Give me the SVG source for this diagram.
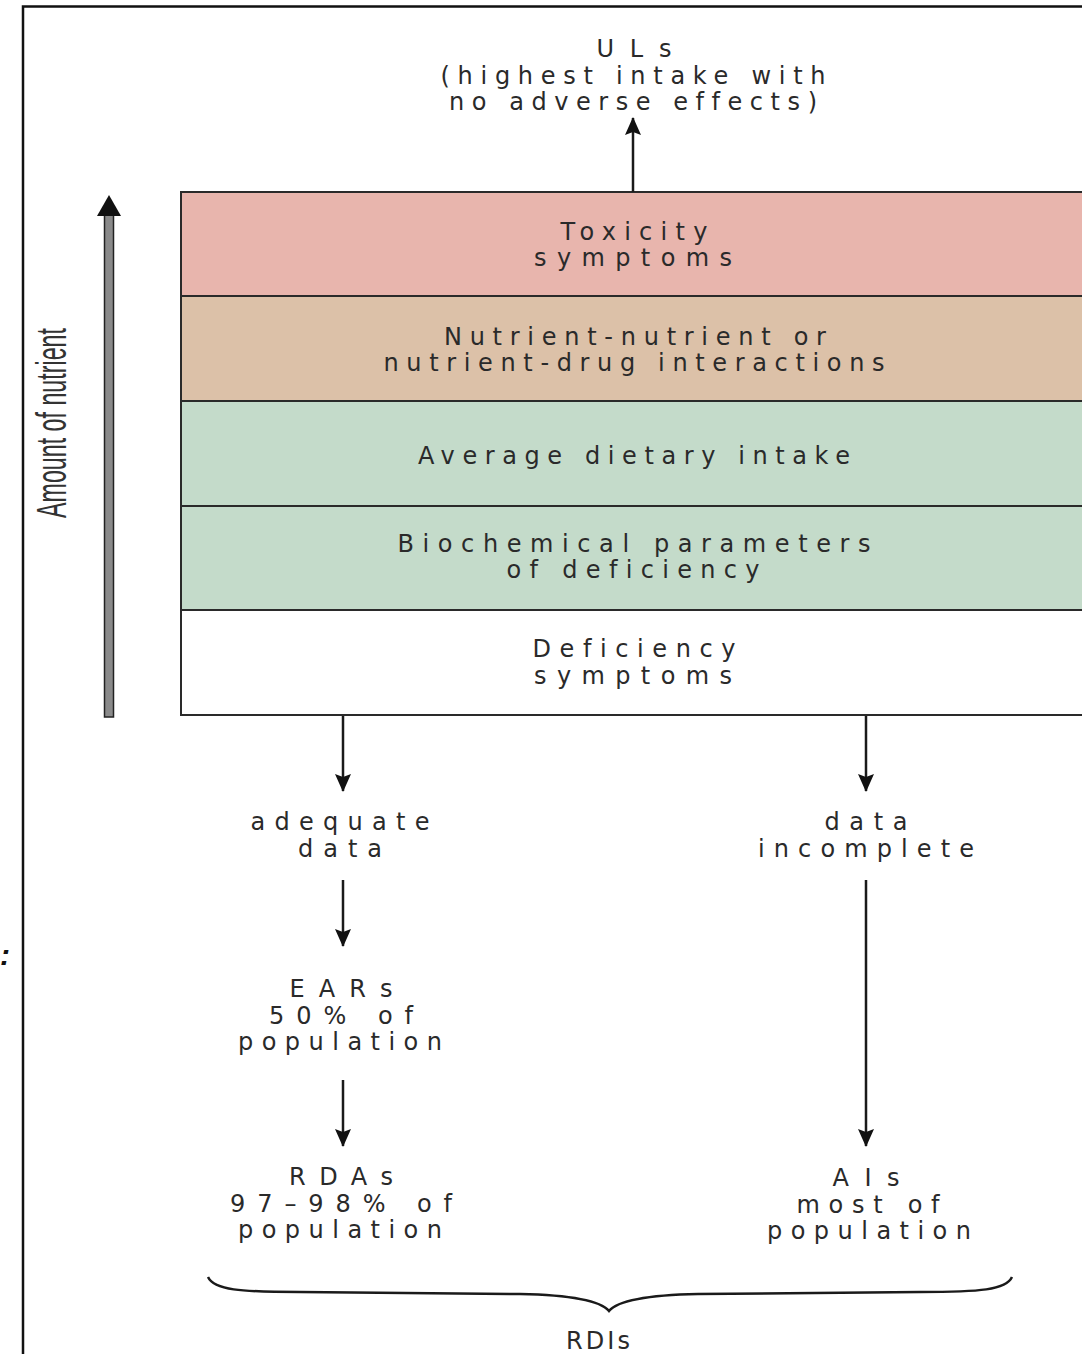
<svg xmlns="http://www.w3.org/2000/svg" width="1082" height="1354" viewBox="0 0 1082 1354">
<style>
  .t { font-family: "DejaVu Sans", "Liberation Sans", Arial, sans-serif; font-size: 24px; fill: #2a2a2a; text-anchor: middle; font-variant-ligatures: none; }
  .row { stroke: #2a2a2a; stroke-width: 2; }
  .conn { stroke: #1a1a1a; stroke-width: 2.5; fill: none; }
</style>
<defs>
  <marker id="arrow" viewBox="0 0 18 16" refX="17" refY="8" markerWidth="18" markerHeight="16" markerUnits="userSpaceOnUse" orient="auto">
    <path d="M0,0 L18,8 L0,16 L3,8 Z" fill="#111"/>
  </marker>
</defs>
<rect width="1082" height="1354" fill="#ffffff"/>
<!-- frame -->
<path d="M23,1354 L23,6.5 L1082,6.5" fill="none" stroke="#111" stroke-width="2.5"/>
<text x="0" y="965" style="font-family:'Liberation Sans',Arial,sans-serif;font-size:30px;font-weight:bold;font-style:italic;fill:#111">:</text>

<!-- axis -->
<g id="axis">
  <rect x="104.5" y="212" width="9" height="505" fill="#8a8a8a" stroke="#222" stroke-width="1.5"/>
  <path d="M109,195 L121,216 L97,216 Z" fill="#111"/>
  <text transform="translate(66,423) rotate(-90)" text-anchor="middle" textLength="190" lengthAdjust="spacingAndGlyphs" style="font-family:'Liberation Sans',Arial,sans-serif;font-size:42px;fill:#333">Amount of nutrient</text>
</g>

<!-- stacked box -->
<g id="toxicity">
  <rect class="row" x="181" y="192" width="910" height="104" fill="#e8b5ad"/>
  <text class="t" x="634" y="240" textLength="147" lengthAdjust="spacing">Toxicity</text>
  <text class="t" x="633" y="266" textLength="198" lengthAdjust="spacing">symptoms</text>
</g>
<g id="interactions">
  <rect class="row" x="181" y="296" width="910" height="105" fill="#dcc1a8"/>
  <text class="t" x="635" y="345" textLength="382" lengthAdjust="spacing">Nutrient-nutrient or</text>
  <text class="t" x="634" y="371" textLength="501" lengthAdjust="spacing">nutrient-drug interactions</text>
</g>
<g id="average">
  <rect class="row" x="181" y="401" width="910" height="105" fill="#c4dbca"/>
  <text class="t" x="634" y="464" textLength="432" lengthAdjust="spacing">Average dietary intake</text>
</g>
<g id="biochemical">
  <rect class="row" x="181" y="506" width="910" height="104" fill="#c4dbca"/>
  <text class="t" x="634" y="552" textLength="473" lengthAdjust="spacing">Biochemical parameters</text>
  <text class="t" x="633" y="578" textLength="253" lengthAdjust="spacing">of deficiency</text>
</g>
<g id="deficiency">
  <rect class="row" x="181" y="610" width="910" height="105" fill="#ffffff"/>
  <text class="t" x="634" y="657" textLength="203" lengthAdjust="spacing">Deficiency</text>
  <text class="t" x="633" y="684" textLength="198" lengthAdjust="spacing">symptoms</text>
</g>

<!-- labels -->
<g id="uls">
  <text class="t" x="634" y="57" textLength="75" lengthAdjust="spacing">ULs</text>
  <text class="t" x="633" y="84" textLength="385" lengthAdjust="spacing">(highest intake with</text>
  <text class="t" x="633" y="110" textLength="368" lengthAdjust="spacing">no adverse effects)</text>
</g>
<g id="adequate">
  <text class="t" x="340" y="830" textLength="179" lengthAdjust="spacing">adequate</text>
  <text class="t" x="340" y="857" textLength="84" lengthAdjust="spacing">data</text>
</g>
<g id="incomplete">
  <text class="t" x="866" y="830" textLength="83" lengthAdjust="spacing">data</text>
  <text class="t" x="866" y="857" textLength="216" lengthAdjust="spacing">incomplete</text>
</g>
<g id="ears">
  <text class="t" x="341" y="997" textLength="103" lengthAdjust="spacing">EARs</text>
  <text class="t" x="341" y="1024" textLength="144" lengthAdjust="spacing">50% of</text>
  <text class="t" x="340" y="1050" textLength="204" lengthAdjust="spacing">population</text>
</g>
<g id="rdas">
  <text class="t" x="341" y="1185" textLength="104" lengthAdjust="spacing">RDAs</text>
  <text class="t" x="341" y="1212" textLength="222" lengthAdjust="spacing">97–98% of</text>
  <text class="t" x="340" y="1238" textLength="204" lengthAdjust="spacing">population</text>
</g>
<g id="ais">
  <text class="t" x="866" y="1186" textLength="67" lengthAdjust="spacing">AIs</text>
  <text class="t" x="868" y="1213" textLength="143" lengthAdjust="spacing">most of</text>
  <text class="t" x="869" y="1239" textLength="204" lengthAdjust="spacing">population</text>
</g>
<g id="rdis">
  <text class="t" x="598" y="1349" textLength="64" lengthAdjust="spacing">RDIs</text>
</g>

<!-- connectors -->
<g id="connectors">
  <line class="conn" x1="633" y1="192" x2="633" y2="118" marker-end="url(#arrow)"/>
  <line class="conn" x1="343" y1="716" x2="343" y2="791" marker-end="url(#arrow)"/>
  <line class="conn" x1="866" y1="716" x2="866" y2="791" marker-end="url(#arrow)"/>
  <line class="conn" x1="343" y1="880" x2="343" y2="946" marker-end="url(#arrow)"/>
  <line class="conn" x1="343" y1="1080" x2="343" y2="1146" marker-end="url(#arrow)"/>
  <line class="conn" x1="866" y1="880" x2="866" y2="1146" marker-end="url(#arrow)"/>
  <path class="conn" stroke-width="2" d="M208,1277 C214,1290 240,1292 300,1292 L520,1294 C570,1295 600,1300 609,1311 C618,1300 648,1295 698,1294 L920,1292 C980,1292 1006,1290 1012,1277"/>
</g>
</svg>
